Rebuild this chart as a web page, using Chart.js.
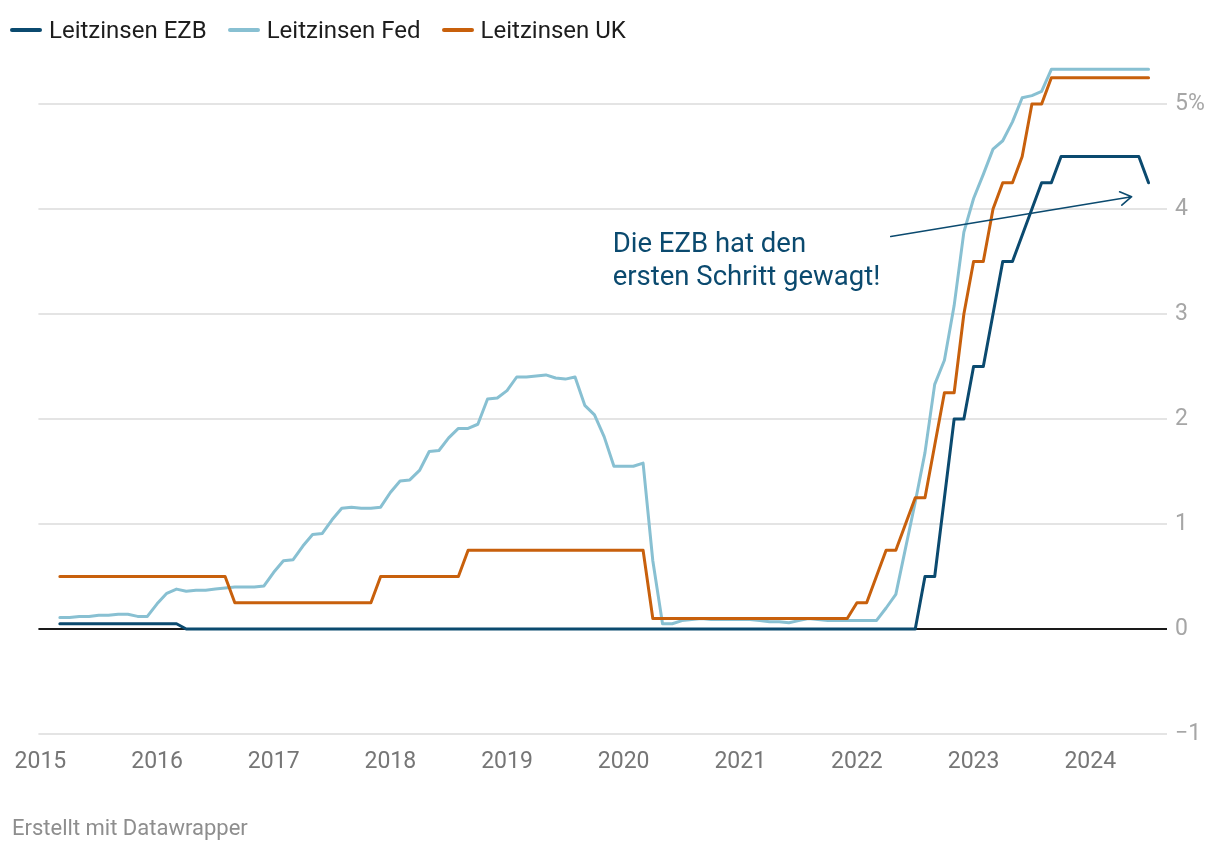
<!DOCTYPE html>
<html lang="de">
<head>
<meta charset="utf-8">
<title>Leitzinsen EZB, Fed, UK</title>
<script src="https://cdn.jsdelivr.net/npm/chart.js@4.4.1/dist/chart.umd.min.js"></script>
<style>
  html, body { margin: 0; padding: 0; background: #fff; }
  body { width: 1220px; height: 850px; position: relative; overflow: hidden;
         font-family: Roboto, "Noto Sans", sans-serif; }
  #wrap { position: absolute; left: 0; top: 0; width: 1220px; height: 850px; }
  .legend { position: absolute; left: 10px; top: 15px; display: flex; align-items: center;
            font-size: 24px; color: #1d1d1d; line-height: 30px; }
  .legend .item { display: flex; align-items: center; margin-right: 21px; }
  .legend i { display: inline-block; width: 32px; height: 4px; border-radius: 2px; margin-right: 7px; }
  .footer { position: absolute; left: 12px; top: 815px; font-size: 22px; line-height: 26px; color: #8e8e8e; }
</style>
</head>
<body>
<div id="wrap"><canvas id="chart" width="1220" height="850"></canvas></div>
<div class="legend" id="legend"></div>
<div class="footer">Erstellt mit Datawrapper</div>
<script>
// ---- data (monthly, Feb 2015 .. Jun 2024) ----------------------------------

const firstMonth = '2015-02';
const lastMonth  = '2024-06';

const seriesNames = ['Leitzinsen EZB', 'Leitzinsen Fed', 'Leitzinsen UK'];
const seriesColors = ['#0b4a6f', '#88c0d2', '#c8600c'];

const ezb = [
  0.05, 0.05, 0.05, 0.05, 0.05, 0.05, 0.05, 0.05, 0.05, 0.05, 0.05,          // 2015 (Feb-Dec)
  0.05, 0.05, 0, 0, 0, 0, 0, 0, 0, 0, 0, 0,                                   // 2016
  0, 0, 0, 0, 0, 0, 0, 0, 0, 0, 0, 0,                                         // 2017
  0, 0, 0, 0, 0, 0, 0, 0, 0, 0, 0, 0,                                         // 2018
  0, 0, 0, 0, 0, 0, 0, 0, 0, 0, 0, 0,                                         // 2019
  0, 0, 0, 0, 0, 0, 0, 0, 0, 0, 0, 0,                                         // 2020
  0, 0, 0, 0, 0, 0, 0, 0, 0, 0, 0, 0,                                         // 2021
  0, 0, 0, 0, 0, 0, 0.5, 0.5, 1.25, 2.0, 2.0, 2.5,                            // 2022
  2.5, 3.0, 3.5, 3.5, 3.75, 4.0, 4.25, 4.25, 4.5, 4.5, 4.5, 4.5,              // 2023
  4.5, 4.5, 4.5, 4.5, 4.5, 4.25                                               // 2024 (Jan-Jun)
];

const fed = [
  0.11, 0.11, 0.12, 0.12, 0.13, 0.13, 0.14, 0.14, 0.12, 0.12, 0.24,
  0.34, 0.38, 0.36, 0.37, 0.37, 0.38, 0.39, 0.40, 0.40, 0.40, 0.41, 0.54,
  0.65, 0.66, 0.79, 0.90, 0.91, 1.04, 1.15, 1.16, 1.15, 1.15, 1.16, 1.30,
  1.41, 1.42, 1.51, 1.69, 1.70, 1.82, 1.91, 1.91, 1.95, 2.19, 2.20, 2.27,
  2.40, 2.40, 2.41, 2.42, 2.39, 2.38, 2.40, 2.13, 2.04, 1.83, 1.55, 1.55,
  1.55, 1.58, 0.65, 0.05, 0.05, 0.08, 0.09, 0.10, 0.09, 0.09, 0.09, 0.09,
  0.09, 0.08, 0.07, 0.07, 0.06, 0.08, 0.10, 0.09, 0.08, 0.08, 0.08, 0.08,
  0.08, 0.08, 0.20, 0.33, 0.77, 1.21, 1.68, 2.33, 2.56, 3.08, 3.78, 4.10,
  4.33, 4.57, 4.65, 4.83, 5.06, 5.08, 5.12, 5.33, 5.33, 5.33, 5.33, 5.33,
  5.33, 5.33, 5.33, 5.33, 5.33, 5.33
];

const uk = [
  0.5, 0.5, 0.5, 0.5, 0.5, 0.5, 0.5, 0.5, 0.5, 0.5, 0.5,
  0.5, 0.5, 0.5, 0.5, 0.5, 0.5, 0.5, 0.25, 0.25, 0.25, 0.25, 0.25,
  0.25, 0.25, 0.25, 0.25, 0.25, 0.25, 0.25, 0.25, 0.25, 0.25, 0.5, 0.5,
  0.5, 0.5, 0.5, 0.5, 0.5, 0.5, 0.5, 0.75, 0.75, 0.75, 0.75, 0.75,
  0.75, 0.75, 0.75, 0.75, 0.75, 0.75, 0.75, 0.75, 0.75, 0.75, 0.75, 0.75,
  0.75, 0.75, 0.1, 0.1, 0.1, 0.1, 0.1, 0.1, 0.1, 0.1, 0.1, 0.1,
  0.1, 0.1, 0.1, 0.1, 0.1, 0.1, 0.1, 0.1, 0.1, 0.1, 0.1, 0.25,
  0.25, 0.5, 0.75, 0.75, 1.0, 1.25, 1.25, 1.75, 2.25, 2.25, 3.0, 3.5,
  3.5, 4.0, 4.25, 4.25, 4.5, 5.0, 5.0, 5.25, 5.25, 5.25, 5.25, 5.25,
  5.25, 5.25, 5.25, 5.25, 5.25, 5.25
];

const yearTicks = [2015, 2016, 2017, 2018, 2019, 2020, 2021, 2022, 2023, 2024];
const valueTicks = [-1, 0, 1, 2, 3, 4, 5];

const noteLines = ['Die EZB hat den', 'ersten Schritt gewagt!'];

// ---- helpers ----------------------------------------------------------------

function monthList(from, to) {
  const out = [];
  let [y, m] = from.split('-').map(Number);
  const [ty, tm] = to.split('-').map(Number);
  while (y < ty || (y === ty && m <= tm)) {
    out.push(y + '-' + String(m).padStart(2, '0'));
    m++; if (m > 12) { m = 1; y++; }
  }
  return out;
}

// month value sits at the end of its month
function toYear(label) {
  const [y, m] = label.split('-').map(Number);
  return y + m / 12;
}

const months = monthList(firstMonth, lastMonth);
const xs = months.map(toYear);

function pts(vals) { return vals.map((v, i) => ({ x: xs[i], y: v })); }

// ---- legend -----------------------------------------------------------------

document.getElementById('legend').innerHTML = seriesNames.map((n, i) =>
  `<span class="item"><i style="background:${seriesColors[i]}"></i>${n}</span>`).join('');

// ---- annotation plugin ------------------------------------------------------

const noteAt = { x: 2019.906, y: 3.657 };
const arrowFrom = { x: 2022.29, y: 3.738 };
const arrowTo = { x: 2024.355, y: 4.117 };

const notePlugin = {
  id: 'ezbNote',
  afterDatasetsDraw(chart) {
    const { ctx, scales: { x, y } } = chart;
    ctx.save();
    ctx.fillStyle = '#0b4a6f';
    ctx.strokeStyle = '#0b4a6f';
    ctx.font = '27.5px Roboto';
    ctx.textBaseline = 'middle';
    const tx = x.getPixelForValue(noteAt.x), ty = y.getPixelForValue(noteAt.y);
    noteLines.forEach((t, k) => ctx.fillText(t, tx, ty + k * 33));

    const x0 = x.getPixelForValue(arrowFrom.x), y0 = y.getPixelForValue(arrowFrom.y);
    const x1 = x.getPixelForValue(arrowTo.x), y1 = y.getPixelForValue(arrowTo.y);
    ctx.lineWidth = 1.6;
    ctx.lineCap = 'round';
    ctx.lineJoin = 'round';
    ctx.beginPath();
    ctx.moveTo(x0, y0);
    ctx.lineTo(x1, y1);
    const a = Math.atan2(y1 - y0, x1 - x0), len = 13, spread = 0.55;
    ctx.moveTo(x1 - len * Math.cos(a - spread), y1 - len * Math.sin(a - spread));
    ctx.lineTo(x1, y1);
    ctx.lineTo(x1 - len * Math.cos(a + spread), y1 - len * Math.sin(a + spread));
    ctx.stroke();
    ctx.restore();
  }
};

// ---- chart ------------------------------------------------------------------

const lineStyle = { borderWidth: 3, pointRadius: 0, tension: 0,
                    borderJoinStyle: 'round', borderCapStyle: 'round', fill: false };

new Chart(document.getElementById('chart'), {
  type: 'line',
  data: {
    datasets: [
      { label: seriesNames[0], data: pts(ezb), borderColor: seriesColors[0], order: 0, ...lineStyle },
      { label: seriesNames[1], data: pts(fed), borderColor: seriesColors[1], order: 2, ...lineStyle },
      { label: seriesNames[2], data: pts(uk),  borderColor: seriesColors[2], order: 1, ...lineStyle }
    ]
  },
  options: {
    responsive: false,
    animation: false,
    layout: { padding: { left: 35, right: 0, top: 51.5, bottom: 76 } },
    plugins: { legend: { display: false }, tooltip: { enabled: false } },
    scales: {
      x: {
        type: 'linear',
        min: 2015 - 2 / 117,
        max: 2015 + 1130 / 117,
        grid: { display: false, drawTicks: false },
        border: { display: false },
        afterBuildTicks: s => { s.ticks = yearTicks.map(v => ({ value: v })); },
        afterFit: s => { s.height = 40; },
        ticks: {
          padding: 14.5,
          color: '#767676',
          font: { family: 'Roboto', size: 23 },
          maxRotation: 0,
          autoSkip: false,
          callback: v => String(v)
        }
      },
      y: {
        position: 'right',
        min: -1,
        max: 5.5,
        grid: {
          drawTicks: false,
          color: c => c.tick && c.tick.value === 0 ? '#1a1a1a' : '#e4e4e4',
          lineWidth: 2
        },
        border: { display: false },
        afterBuildTicks: s => { s.ticks = valueTicks.map(v => ({ value: v })); },
        afterFit: s => { s.width = 53; },
        ticks: {
          padding: 8,
          color: '#a6a6a6',
          font: { family: 'Roboto', size: 23 },
          callback: v => v === 5 ? '5%' : (v < 0 ? '\u2212' + Math.abs(v) : String(v))
        }
      }
    }
  },
  plugins: [notePlugin]
});
</script>
</body>
</html>
